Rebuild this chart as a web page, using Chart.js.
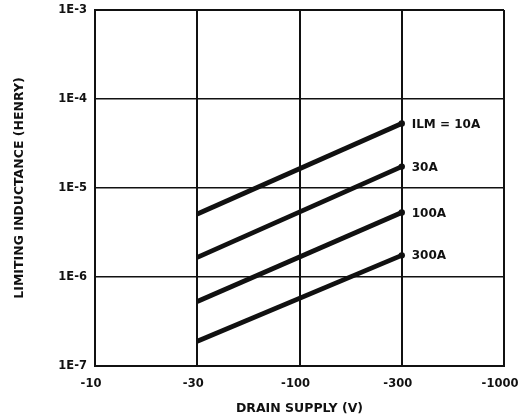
<!DOCTYPE html>
<html>
<head>
<meta charset="utf-8">
<script src="https://cdn.jsdelivr.net/npm/chart.js@4.4.1/dist/chart.umd.min.js"></script>
<style>
  html, body { margin: 0; padding: 0; background: #fff; }
  #wrap { width: 518px; height: 418px; }
</style>
</head>
<body>
<div id="wrap"><canvas id="c" width="518" height="418"></canvas></div>
<script>
// ---- data ----
const categories = ['-10', '-30', '-100', '-300', '-1000'];
const yTickValues = [1e-7, 1e-6, 1e-5, 1e-4, 1e-3];
const yTickLabels = ['1E-7', '1E-6', '1E-5', '1E-4', '1E-3'];
const seriesLabels = ['ILM = 10A', '30A', '100A', '300A'];
const ilm10A  = [null, 5.1e-6, null, 5.3e-5, null];
const ilm30A  = [null, 1.66e-6, null, 1.74e-5, null];
const ilm100A = [null, 5.3e-7, null, 5.3e-6, null];
const ilm300A = [null, 1.9e-7, null, 1.75e-6, null];
const xTitle = 'DRAIN SUPPLY (V)';
const yTitle = 'LIMITING INDUCTANCE (HENRY)';

const FONT = 'DejaVu Sans';
const INK = '#111';

const seriesData = [ilm10A, ilm30A, ilm100A, ilm300A];

const endLabels = {
  id: 'endLabels',
  afterDatasetsDraw(chart) {
    const ctx = chart.ctx;
    ctx.save();
    ctx.fillStyle = INK;
    ctx.font = 'bold 12px "' + FONT + '"';
    ctx.textAlign = 'left';
    ctx.textBaseline = 'middle';
    chart.data.datasets.forEach((ds, i) => {
      const meta = chart.getDatasetMeta(i);
      let lastIdx = -1;
      ds.data.forEach((v, j) => { if (v !== null) lastIdx = j; });
      const pt = meta.data[lastIdx];
      ctx.fillText(ds.label, pt.x + 10, pt.y + 1);
    });
    ctx.restore();
  }
};

new Chart(document.getElementById('c'), {
  type: 'line',
  data: {
    labels: categories,
    datasets: seriesData.map((d, i) => ({
      label: seriesLabels[i],
      data: d,
      borderColor: INK,
      backgroundColor: INK,
      borderWidth: 4.8,
      borderCapStyle: 'butt',
      spanGaps: true,
      pointRadius: (c) => (c.dataIndex === 3 ? 3.2 : 0),
      pointBorderWidth: 0,
      pointHoverRadius: 0,
      fill: false
    }))
  },
  options: {
    responsive: false,
    animation: false,
    events: [],
    layout: { padding: { left: 0, top: 10, right: 14, bottom: 0 } },
    plugins: { legend: { display: false }, tooltip: { enabled: false } },
    scales: {
      x: {
        type: 'category',
        offset: false,
        grid: { color: INK, lineWidth: 2, drawTicks: false, offset: false },
        border: { color: INK, width: 2 },
        ticks: {
          color: INK,
          font: { family: FONT, weight: 'bold', size: 11.5 },
          padding: 11,
          labelOffset: -4,
          maxRotation: 0,
          autoSkip: false
        },
        title: {
          display: true,
          text: xTitle,
          color: INK,
          font: { family: FONT, weight: 'bold', size: 12.5 },
          padding: { top: 0, bottom: 2 }
        },
        afterFit(scale) { scale.height = 52; scale.paddingRight = 0; }
      },
      y: {
        type: 'logarithmic',
        min: 1e-7,
        max: 1e-3,
        grid: {
          color: INK,
          lineWidth: (c) => (c.index === yTickValues.length - 1 ? 2 : 1.5),
          drawTicks: false
        },
        border: { color: INK, width: 2 },
        afterBuildTicks(scale) {
          scale.ticks = yTickValues.map(v => ({ value: v }));
        },
        ticks: {
          color: INK,
          font: { family: FONT, weight: 'bold', size: 11.5 },
          padding: 8,
          autoSkip: false,
          callback: (v) => {
            const i = yTickValues.findIndex(t => Math.abs(Math.log10(t) - Math.log10(v)) < 1e-6);
            return i >= 0 ? yTickLabels[i] : '';
          }
        },
        title: {
          display: true,
          text: yTitle,
          color: INK,
          font: { family: FONT, weight: 'bold', size: 12.5 },
          padding: { top: 12, bottom: 0 }
        },
        afterFit(scale) { scale.width = 95; scale.paddingTop = 0; scale.paddingBottom = 0; }
      }
    }
  },
  plugins: [endLabels]
});
</script>
</body>
</html>
